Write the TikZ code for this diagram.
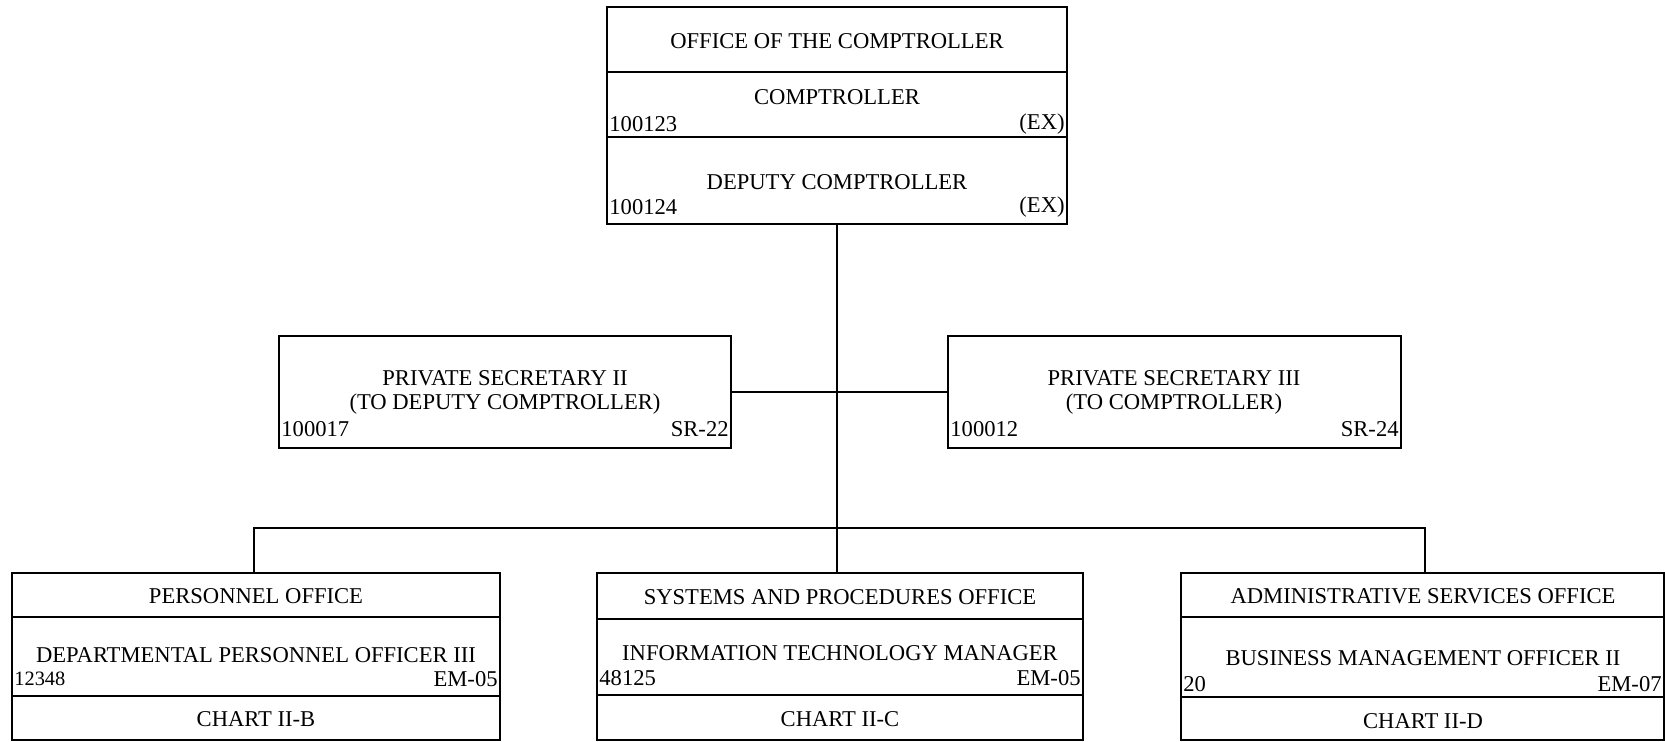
\documentclass[tikz,border=0pt]{standalone}
\usepackage{fontspec}
\setmainfont{Liberation Serif}
\usetikzlibrary{fit}
\begin{document}
\begin{tikzpicture}[x=0.5pt,y=-0.5pt,
  box/.style={draw, line width=0.7pt, inner sep=0pt},
  sep/.style={line width=0.7pt},
  conn/.style={line width=0.7pt},
  txt/.style={inner sep=0pt, font=\fontsize{11.3}{13}\selectfont},
  lft/.style={txt, anchor=west},
  rgt/.style={txt, anchor=east}]
\useasboundingbox (0,0) rectangle (1665,742);
\fill[white] (0,0) rectangle (1665,742);

% ---- top box
\node[box, fit={(607,7)(1067,224)}] (top) {};
\draw[sep] (607,72) -- (1067,72);
\draw[sep] (607,137) -- (1067,137);
\node[txt] (t1) at (837,41) {OFFICE OF THE COMPTROLLER};
\node[txt] (t2) at (837,97) {COMPTROLLER};
\node[lft] (t2a) at (609,124) {100123};
\node[rgt] (t2b) at (1065,124) {(EX)};
\node[txt] (t3) at (837,182) {DEPUTY COMPTROLLER};
\node[lft] (t3a) at (609,207) {100124};
\node[rgt] (t3b) at (1065,207) {(EX)};

% ---- private secretaries
\node[box, fit={(279,336)(731,448)}] (ps2) {};
\node[txt] (ps2a) at (505,378) {PRIVATE SECRETARY II};
\node[txt] (ps2b) at (505,404) {(TO DEPUTY COMPTROLLER)};
\node[lft] (ps2c) at (281,429) {100017};
\node[rgt] (ps2d) at (729,429) {SR-22};

\node[box, fit={(948,336)(1401,448)}] (ps3) {};
\node[txt] (ps3a) at (1174,378) {PRIVATE SECRETARY III};
\node[txt] (ps3b) at (1174,404) {(TO COMPTROLLER)};
\node[lft] (ps3c) at (950,429) {100012};
\node[rgt] (ps3d) at (1399,429) {SR-24};

% ---- bottom boxes
\node[box, fit={(12,573)(500,740)}] (pl) {};
\draw[sep] (12,617) -- (500,617);
\draw[sep] (12,696) -- (500,696);
\node[txt] (pl1) at (256,596) {PERSONNEL OFFICE};
\node[txt] (pl2) at (256,655) {DEPARTMENTAL PERSONNEL OFFICER III};
\node[lft, font=\fontsize{10.2}{12}\selectfont] (pl3) at (14,679) {12348};
\node[rgt] (pl4) at (498,679) {EM-05};
\node[txt] (pl5) at (256,719) {CHART II-B};

\node[box, fit={(597,573)(1083,740)}] (pm) {};
\draw[sep] (597,619) -- (1083,619);
\draw[sep] (597,695) -- (1083,695);
\node[txt] (pm1) at (840,597) {SYSTEMS AND PROCEDURES OFFICE};
\node[txt] (pm2) at (840,653) {INFORMATION TECHNOLOGY MANAGER};
\node[lft] (pm3) at (599,678) {48125};
\node[rgt] (pm4) at (1081,678) {EM-05};
\node[txt] (pm5) at (840,719) {CHART II-C};

\node[box, fit={(1181,573)(1664,740)}] (pr) {};
\draw[sep] (1181,617) -- (1664,617);
\draw[sep] (1181,697) -- (1664,697);
\node[txt] (pr1) at (1423,596) {ADMINISTRATIVE SERVICES OFFICE};
\node[txt] (pr2) at (1423,658) {BUSINESS MANAGEMENT OFFICER II};
\node[lft] (pr3) at (1183,684) {20};
\node[rgt] (pr4) at (1662,684) {EM-07};
\node[txt] (pr5) at (1423,721) {CHART II-D};

% ---- connectors
\coordinate (bus) at (837,528);
\coordinate (busL) at (254,528);
\coordinate (busR) at (1425,528);
\draw[conn] (top.south -| bus) -- (bus |- pm.north);
\draw[conn] (ps2.east) -- (ps3.west);
\draw[conn] (busL |- pl.north) -- (busL) -- (busR) -- (busR |- pr.north);
\end{tikzpicture}
\end{document}
